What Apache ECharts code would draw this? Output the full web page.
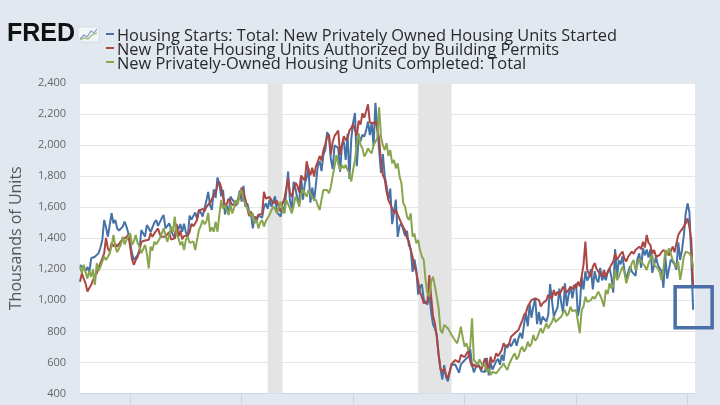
<!DOCTYPE html>
<html><head><meta charset="utf-8">
<script src="https://cdn.jsdelivr.net/npm/echarts@6/dist/echarts.min.js"></script>
<style>html,body{margin:0;padding:0;background:#e1e8ef}#c{width:720px;height:405px}</style>
</head><body><div id="c"></div>
<script>
// ---- data (thousands of units, SAAR, monthly from 1992-10) ----
const startYear = 1992, startMonth = 10;
const starts = [
1228,1220,1205,
1190,1215,1180,1271,1265,1281,1290,1303,1340,1389,1518,1470,
1410,1400,1561,1496,1518,1464,1450,1442,1475,1507,1475,1432,
1430,1303,1260,1275,1292,1320,1453,1432,1410,1485,1464,1440,
1470,1500,1518,1480,1485,1530,1550,1464,1480,1496,1460,1421,
1400,1486,1457,1492,1442,1494,1437,1410,1546,1520,1510,1566,
1525,1584,1567,1540,1536,1641,1698,1614,1582,1715,1660,1792,
1748,1670,1710,1553,1611,1559,1669,1648,1635,1608,1648,1708,
1636,1737,1604,1626,1575,1559,1463,1541,1507,1549,1551,1532,
1600,1625,1590,1649,1605,1636,1670,1567,1562,1540,1602,1568,
1698,1829,1642,1592,1764,1717,1655,1633,1804,1648,1753,1788,
1853,1629,1726,1643,1751,1867,1897,1833,1939,1967,2083,2057,
1911,1846,1998,2003,1981,1828,2002,2024,1905,2072,1782,2042,
2144,2207,1864,2061,2025,2068,2054,2095,2151,2065,2147,1994,
2273,2119,1969,1821,1942,1802,1737,1650,1720,1491,1570,1649,
1409,1480,1495,1490,1415,1448,1354,1330,1183,1264,1197,1037,
1084,1103,1005,1013,973,1046,923,844,820,777,652,560,
490,582,505,478,540,585,594,586,585,534,588,581,
614,604,636,687,583,536,546,599,594,543,545,539,
630,517,600,554,561,608,623,585,650,610,711,694,
723,704,695,753,708,757,790,754,847,915,833,976,
888,962,1010,847,925,844,895,883,862,905,1105,1001,
897,928,953,1076,984,918,1109,963,1037,1090,1013,1082,
1107,900,966,1150,1070,1187,1128,1152,1201,1071,1188,1135,
1116,1209,1129,1161,1130,1184,1205,1152,1050,1331,1148,1257,
1232,1284,1194,1138,1128,1219,1185,1182,1158,1265,1303,1210,
1336,1290,1327,1276,1329,1177,1184,1280,1228,1217,1188,1081,
1291,1139,1203,1263,1264,1233,1198,1374,1260,1323,1420,1560,
1625,1567,1276,940];
const permits = [
1120,1174,1140,
1110,1056,1080,1099,1130,1157,1174,1210,1239,1270,1303,1402,
1335,1312,1372,1347,1365,1346,1355,1380,1395,1400,1408,1424,
1345,1264,1228,1260,1279,1315,1378,1386,1385,1382,1390,1433,
1409,1431,1442,1463,1425,1409,1421,1412,1409,1440,1392,1401,
1399,1492,1412,1449,1393,1415,1417,1418,1440,1493,1478,1496,
1518,1576,1578,1590,1573,1601,1616,1629,1654,1659,1697,1742,
1764,1728,1716,1608,1621,1655,1666,1614,1604,1623,1633,1666,
1727,1692,1651,1597,1543,1572,1542,1546,1528,1551,1540,1557,
1699,1656,1659,1666,1665,1626,1614,1641,1601,1571,1621,1654,
1665,1787,1691,1669,1716,1758,1738,1695,1803,1799,1771,1896,
1839,1806,1854,1798,1865,1894,1930,1900,1968,2005,2053,2070,
1940,2020,2059,2061,2093,1936,2003,2057,2031,2045,2093,2109,
2137,2135,2061,2157,2132,2205,2177,2218,2263,2147,2146,2139,
2155,2147,2041,1893,1807,1780,1700,1646,1620,1593,1560,1580,
1550,1540,1496,1470,1450,1400,1380,1324,1280,1217,1180,1120,
1050,1024,981,980,990,1163,1024,900,852,770,650,560,
540,560,520,498,543,590,600,616,610,600,648,640,
635,640,676,610,574,587,574,573,575,554,558,627,
590,560,637,600,616,659,640,637,680,723,702,702,
720,766,760,788,780,809,840,870,906,920,960,970,
1002,990,1013,1008,1002,960,981,970,1000,1035,1045,1010,
1067,1030,1056,1035,1060,1088,1077,1050,1056,1088,1070,1099,
1080,1120,1090,1153,1230,1378,1195,1170,1152,1217,1240,1204,
1185,1191,1152,1195,1152,1180,1206,1230,1249,1303,1260,1281,
1300,1314,1270,1250,1281,1275,1314,1300,1324,1320,1346,1330,
1377,1340,1421,1370,1357,1300,1324,1281,1270,1292,1310,1324,
1324,1314,1290,1300,1346,1310,1367,1420,1442,1453,1475,1496,
1528,1470,1389,1090];
const completions = [
1217,1174,1230,
1180,1140,1190,1150,1200,1099,1239,1190,1217,1250,1281,1260,
1270,1303,1350,1421,1346,1310,1303,1360,1410,1360,1389,1400,
1432,1357,1380,1421,1370,1346,1303,1330,1357,1300,1206,1346,
1320,1378,1360,1357,1400,1432,1464,1420,1378,1420,1475,1440,
1539,1421,1400,1357,1380,1324,1390,1410,1370,1367,1380,1324,
1313,1453,1480,1517,1490,1507,1563,1442,1470,1442,1507,1442,
1550,1646,1590,1614,1580,1550,1614,1560,1600,1646,1620,1690,
1711,1646,1620,1593,1570,1539,1560,1496,1520,1464,1500,1518,
1475,1510,1530,1550,1580,1603,1590,1560,1600,1636,1580,1560,
1646,1620,1593,1560,1610,1668,1640,1603,1680,1711,1690,1668,
1711,1689,1660,1668,1646,1610,1582,1650,1711,1700,1711,1690,
1732,1800,1861,1936,1880,1840,1872,1850,1872,1840,1818,1765,
1840,1904,2012,2076,2000,1979,1926,1947,1979,1960,1947,2001,
1990,2044,2243,2054,2000,1968,2012,1930,1968,1883,1904,1850,
1883,1797,1754,1625,1603,1539,1518,1560,1410,1430,1367,1389,
1324,1282,1260,1131,1045,1024,1120,1153,1090,1024,950,809,
788,841,830,820,800,777,766,740,723,770,830,760,
702,724,680,702,884,616,600,584,620,595,573,590,
541,560,519,540,551,530,545,562,575,594,570,551,
590,616,640,659,620,637,680,702,670,690,734,702,
720,777,740,756,790,820,788,800,852,820,831,860,
895,860,874,880,895,920,938,900,916,959,930,938,
938,950,788,938,960,1024,990,981,1002,1024,1010,1002,
1056,1030,1000,959,1067,1040,1110,1077,1090,1195,1130,1152,
1152,1217,1180,1110,1150,1195,1240,1260,1195,1230,1270,1249,
1249,1220,1195,1238,1250,1292,1228,1240,1206,1180,1131,1200,
1324,1290,1335,1300,1260,1240,1217,1250,1131,1200,1281,1314,
1325,1303,1281,1215];
const seriesNames = [
  'Housing Starts: Total: New Privately Owned Housing Units Started',
  'New Private Housing Units Authorized by Building Permits',
  'New Privately-Owned Housing Units Completed: Total'];
const seriesColors = ['#4572A7', '#AA4643', '#89A54E'];
const recessions = [['2001-03', '2001-11'], ['2007-12', '2009-06']];
const yMin = 400, yMax = 2400, yStep = 200;
const yAxisName = 'Thousands of Units';

// month categories (one spare month at the end, as in the reference axis)
const months = [];
for (let k = 0; k < starts.length + 1; k++) {
  const m = startMonth - 1 + k;
  months.push((startYear + Math.floor(m / 12)) + '-' + String(m % 12 + 1).padStart(2, '0'));
}

const chart = echarts.init(document.getElementById('c'));
const FONT = '"Open Sans", "DejaVu Sans", sans-serif';
chart.setOption({
  backgroundColor: '#e1e8ef',
  animation: false,
  grid: { left: 78, right: 25, top: 83, bottom: 11.5, show: true, backgroundColor: '#ffffff', borderWidth: 0 },
  xAxis: {
    type: 'category', data: months, boundaryGap: false,
    axisLine: { show: true, lineStyle: { color: '#ccd6eb' } },
    axisTick: { show: true, length: 12, lineStyle: { color: '#ccd6eb' },
      interval: (i, v) => v.slice(5) === '01' && (+v.slice(0, 4)) % 5 === 0 },
    axisLabel: { show: false }, splitLine: { show: false }
  },
  yAxis: {
    type: 'value', min: yMin, max: yMax, interval: yStep,
    name: yAxisName, nameLocation: 'middle', nameGap: 56,
    nameTextStyle: { fontFamily: FONT, fontSize: 16, color: '#555' },
    axisLabel: { formatter: v => v.toLocaleString('en-US'), color: '#666', fontSize: 11, fontFamily: FONT, margin: 14 },
    splitLine: { lineStyle: { color: '#e6e6e6', width: 1 } },
    axisLine: { show: false }, axisTick: { show: false }
  },
  series: [
    { type: 'line', data: [], silent: true,
      markArea: { silent: true, itemStyle: { color: '#e4e4e4' },
        data: recessions.map(r => [{ xAxis: r[0] }, { xAxis: r[1] }]) } },
    ...[starts, permits, completions].map((d, k) => ({
      type: 'line', name: seriesNames[k], data: d, showSymbol: false, symbol: 'none',
      lineStyle: { color: seriesColors[k], width: 2 }, itemStyle: { color: seriesColors[k] }
    }))
  ]
});

// legend / header (real text), condensed to the reference width
const ctx = document.createElement('canvas').getContext('2d');
ctx.font = '17px "Open Sans"';
const sx = 500 / ctx.measureText(seriesNames[0]).width;
const rowsY = [36, 50, 64];
const graphic = [
  { type: 'text', x: 7, y: 22, style: { text: 'FRED', font: 'bold 25px "Liberation Sans", Arial, sans-serif', fill: '#111' } },
  { type: 'rect', shape: { x: 78, y: 27, width: 21, height: 15 }, style: { fill: '#f3f6f9', stroke: '#d5dde6', lineWidth: 1 } },
  { type: 'polyline', shape: { points: [[80, 39], [84, 35], [87, 37], [91, 31], [94, 33], [97, 29]] }, style: { stroke: '#7d9cc4', lineWidth: 1.2, fill: null } },
  { type: 'polyline', shape: { points: [[80, 40], [84, 38], [88, 39], [92, 35], [97, 33]] }, style: { stroke: '#9ab86a', lineWidth: 1.2, fill: null } }
];
seriesNames.forEach((n, k) => {
  graphic.push({ type: 'line', shape: { x1: 106, y1: rowsY[k] - 2, x2: 114, y2: rowsY[k] - 2 }, style: { stroke: seriesColors[k], lineWidth: 2 } });
  graphic.push({ type: 'text', x: 117, y: rowsY[k], scaleX: sx, style: { text: n, font: '17px "Open Sans"', fill: '#2a2a2a', verticalAlign: 'middle' } });
});
// highlight box around the last housing-starts observation
const last = starts.length - 1;
const p = chart.convertToPixel({ seriesIndex: 1 }, [last, starts[last]]);
graphic.push({ type: 'rect', shape: { x: p[0] - 18, y: p[1] - 23, width: 37, height: 41 },
  style: { fill: null, stroke: '#4a6ea8', lineWidth: 3.5 }, z: 100 });
chart.setOption({ graphic });
</script></body></html>
